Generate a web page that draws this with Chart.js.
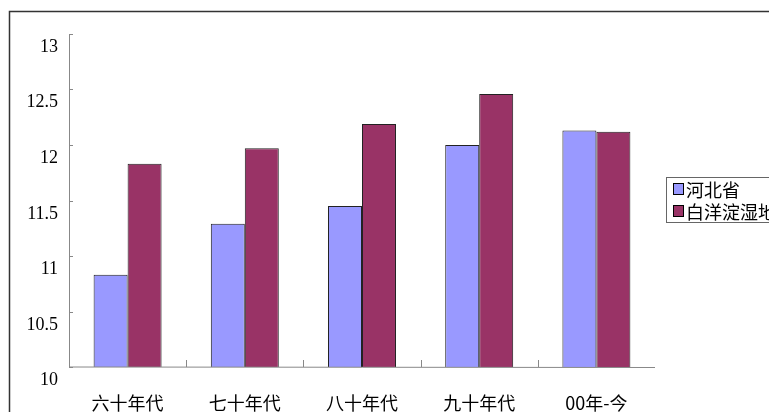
<!DOCTYPE html>
<html><head><meta charset="utf-8">
<script src="https://cdn.jsdelivr.net/npm/chart.js@4"></script>
<style>html,body{margin:0;padding:0;background:#fff}#w{width:769px;height:412px}</style>
</head><body><div id="w"><canvas id="c"></canvas></div>
<script>
const categories = ['六十年代','七十年代','八十年代','九十年代','00年-今'];
const hebei = [10.83, 11.29, 11.45, 12.0, 12.13];
const baiyangdian = [11.83, 11.97, 12.19, 12.46, 12.12];
const yTicks = [10, 10.5, 11, 11.5, 12, 12.5, 13];
const seriesNames = ['河北省','白洋淀湿地'];
const colors = ['#9999FF','#993366'];

const deco = {
  id:'deco',
  beforeDraw(ch){
    const c=ch.ctx; c.save();
    c.strokeStyle='#333'; c.lineWidth=1.5;
    c.strokeRect(9.5,11.5,800,420);
    c.restore();
  },
  afterDraw(ch){
    const c=ch.ctx, a=ch.chartArea, y=ch.scales.y, x=ch.scales.x;
    c.save();
    c.strokeStyle='#888'; c.lineWidth=1;
    c.beginPath(); c.moveTo(a.left+0.5,a.top); c.lineTo(a.left+0.5,a.bottom); c.lineTo(a.right,a.bottom+0.5); c.stroke();
    c.fillStyle='#000'; c.font='18px "Liberation Serif", serif'; c.textAlign='right'; c.textBaseline='middle';
    yTicks.forEach(v=>{const p=Math.round(y.getPixelForValue(v))+0.5;
      c.beginPath(); c.moveTo(a.left,p); c.lineTo(a.left+4,p); c.stroke();
      c.fillText(String(v), 58, p+13);});
    const n=categories.length, w=(a.right-a.left)/n;
    for(let i=1;i<n;i++){const px=Math.round(a.left+w*i)+0.5; c.beginPath(); c.moveTo(px,a.bottom); c.lineTo(px,a.bottom-7); c.stroke();}
    c.font='18px "Noto Sans CJK SC", sans-serif'; c.textAlign='center';
    categories.forEach((t,i)=>c.fillText(t, x.getPixelForValue(i), 403));
    // legend
    c.strokeStyle='#666'; c.strokeRect(666.5,177.5,120,45);
    c.textAlign='left';
    seriesNames.forEach((s,i)=>{const yy=189+i*22;
      c.fillStyle=colors[i]; c.fillRect(673,yy-5,10,11); c.strokeStyle='#000'; c.strokeRect(673.5,yy-5.5,10,11);
      c.fillStyle='#000'; c.fillText(s,686,yy+1);});
    c.restore();
  }
};

new Chart(document.getElementById('c'),{
  type:'bar',
  data:{labels:categories,datasets:[
    {label:seriesNames[0],data:hebei,backgroundColor:colors[0],borderColor:'#222',borderWidth:1},
    {label:seriesNames[1],data:baiyangdian,backgroundColor:colors[1],borderColor:'#222',borderWidth:1}]},
  options:{responsive:true,maintainAspectRatio:false,animation:false,
    layout:{padding:{left:69,top:34,right:114,bottom:45}},
    datasets:{bar:{categoryPercentage:0.58,barPercentage:1,base:10}},
    plugins:{legend:{display:false},tooltip:{enabled:false}},
    scales:{x:{display:false},y:{display:false,min:10,max:13}}},
  plugins:[deco]
});
</script></body></html>
